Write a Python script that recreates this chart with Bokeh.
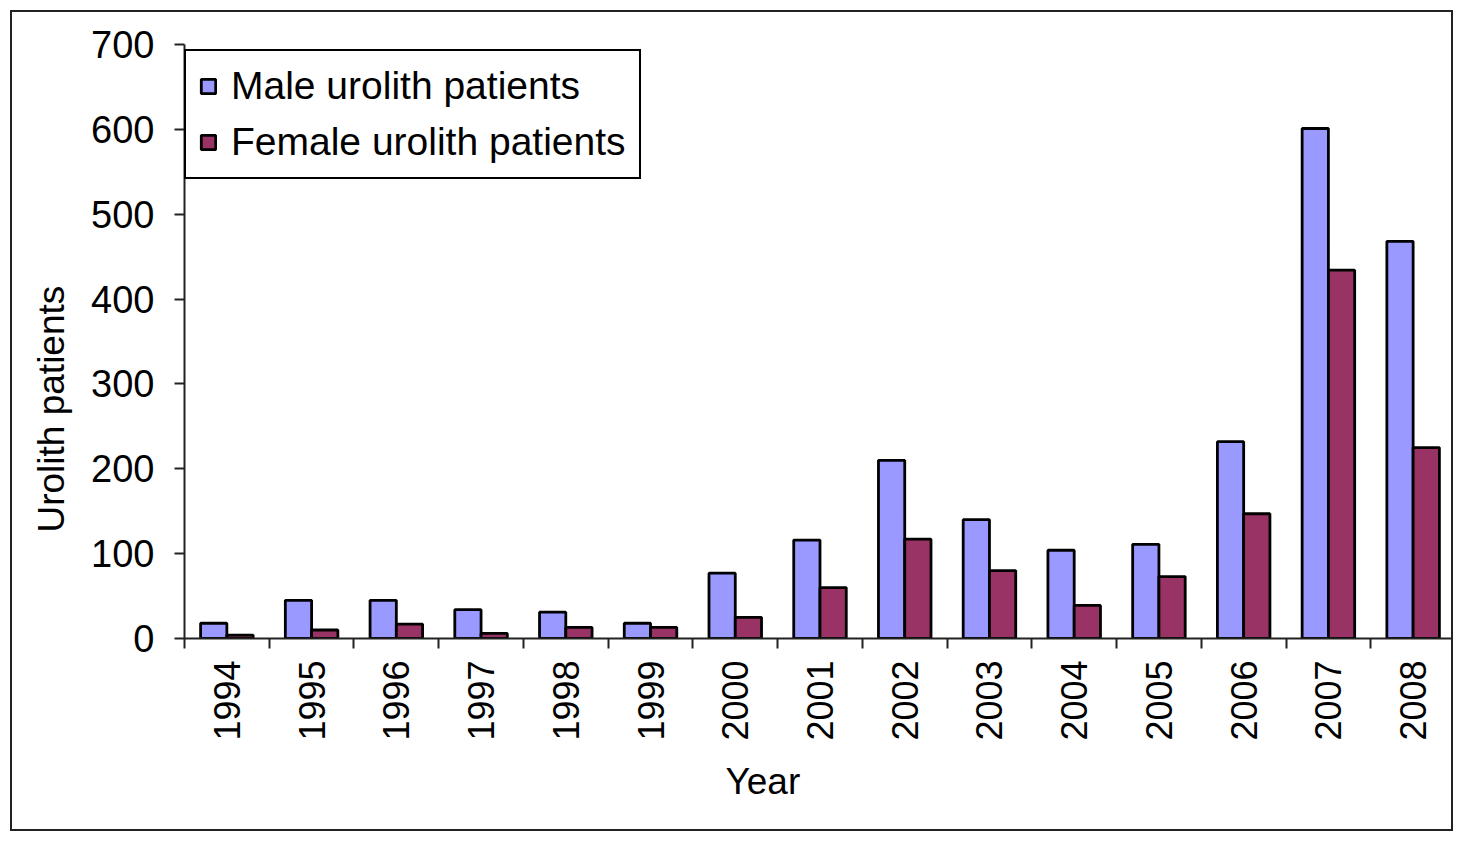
import numpy as np
from math import pi
from bokeh.plotting import figure
from bokeh.models import (Range1d, FixedTicker, CustomJSTickFormatter, Legend,
                          LegendItem, Title, ColumnDataSource)
from bokeh.transform import dodge
from bokeh.embed import file_html
from bokeh.resources import INLINE

years = ["1994", "1995", "1996", "1997", "1998", "1999", "2000", "2001",
         "2002", "2003", "2004", "2005", "2006", "2007", "2008"]
male = [18, 45, 45, 34, 31, 18, 77, 116, 210, 140, 104, 111, 232, 601, 468]
female = [4, 10, 17, 6, 13, 13, 25, 60, 117, 80, 39, 73, 147, 434, 225]
y_ticks = [0, 100, 200, 300, 400, 500, 600, 700]

FONT = "Liberation Sans"
n = len(years)
centers = np.arange(n) + 0.5
src = ColumnDataSource(dict(x=centers, year=years, male=male, female=female))

p = figure(width=1443, height=821, output_backend="svg", toolbar_location=None,
           x_range=Range1d(0, n), y_range=Range1d(0, 700),
           min_border_left=172, min_border_right=0, min_border_top=32,
           min_border_bottom=195)
p.styles = {"border": "2px solid #222", "margin": "10px 0 0 10px"}
p.outline_line_color = None
p.xgrid.visible = False
p.ygrid.visible = False
p.background_fill_color = "white"

r_m = p.vbar(x=dodge("x", -0.155, range=p.x_range), top="male", width=0.31,
             bottom=0, source=src, fill_color="#9999FF", line_color="black",
             line_width=2.8)
r_f = p.vbar(x=dodge("x", 0.155, range=p.x_range), top="female", width=0.31,
             bottom=0, source=src, fill_color="#993366", line_color="black",
             line_width=2.8)

# x axis: labels at centres, ticks at category boundaries
xa = p.xaxis[0]
xa.ticker = FixedTicker(ticks=list(centers), minor_ticks=list(range(n + 1)))
xa.formatter = CustomJSTickFormatter(args=dict(years=years),
                                     code="return years[Math.floor(tick)];")
xa.major_label_orientation = pi / 2
xa.major_tick_out = 0
xa.major_tick_in = 0
xa.minor_tick_out = 10
xa.minor_tick_in = 0
xa.minor_tick_line_color = "#222"
xa.minor_tick_line_width = 2
xa.axis_line_color = "#222"
xa.axis_line_width = 2
xa.major_label_text_font = FONT
xa.major_label_text_font_size = "36px"
xa.major_label_text_color = "black"
xa.major_label_standoff = 12

ya = p.yaxis[0]
ya.ticker = FixedTicker(ticks=y_ticks)
ya.minor_tick_line_color = None
ya.major_tick_out = 10
ya.major_tick_in = 0
ya.major_tick_line_color = "#222"
ya.major_tick_line_width = 2
ya.axis_line_color = "#222"
ya.axis_line_width = 2
ya.major_label_text_font = FONT
ya.major_label_text_font_size = "38px"
ya.major_label_text_color = "black"
ya.major_label_standoff = 20

p.add_layout(Title(text="Year", align="left", offset=541, standoff=30,
                   text_font=FONT, text_font_size="37px",
                   text_font_style="normal", text_color="black"), "below")
p.add_layout(Title(text="Urolith patients", align="left", offset=106,
                   standoff=33, text_font=FONT, text_font_size="37px",
                   text_font_style="normal", text_color="black"), "left")

legend = Legend(items=[LegendItem(label="Male urolith patients", renderers=[r_m]),
                       LegendItem(label="Female urolith patients", renderers=[r_f])],
                location=(0, 459), label_text_font=FONT,
                label_text_font_size="39px", label_text_color="black",
                glyph_width=18, glyph_height=18, label_standoff=14,
                padding=13, spacing=12, margin=0,
                border_line_color="black", border_line_width=2,
                border_line_alpha=1.0,
                background_fill_color="white", background_fill_alpha=1.0)
p.add_layout(legend, "center")

open("out.html", "w").write(file_html(p, INLINE))
